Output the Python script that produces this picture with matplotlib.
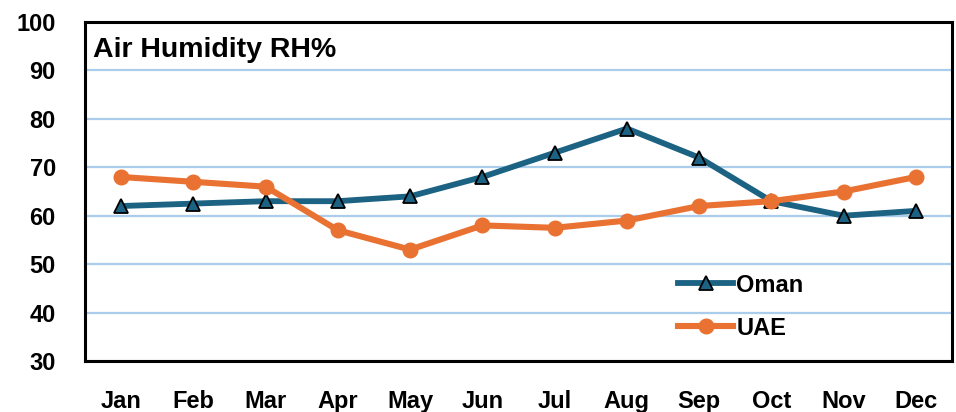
import matplotlib
matplotlib.use("Agg")
import matplotlib.pyplot as plt

months = ["Jan", "Feb", "Mar", "Apr", "May", "Jun", "Jul", "Aug", "Sep", "Oct", "Nov", "Dec"]
oman = [62, 62.5, 63, 63, 64, 68, 73, 78, 72, 63, 60, 61]
uae = [68, 67, 66, 57, 53, 58, 57.5, 59, 62, 63, 65, 68]
yticks = [30, 40, 50, 60, 70, 80, 90, 100]
title = "Air Humidity RH%"

plt.rcParams['font.family'] = ['Liberation Sans', 'DejaVu Sans']

fig = plt.figure(figsize=(9.56, 4.12), dpi=100)
ax = fig.add_axes([85/956, 1-361/412, (952-85)/956, (361-22)/412])

x = list(range(len(months)))
oman_c = "#1B6283"
uae_c = "#E97132"
ax.plot(x, oman, color=oman_c, lw=4.2, marker="^", ms=10, mfc=oman_c, mec="black", mew=1.3, label="Oman", zorder=3)
ax.plot(x, uae, color=uae_c, lw=4.4, marker="o", ms=10.5, mfc=uae_c, mec=uae_c, label="UAE", zorder=3)

ax.set_xlim(-0.5, 11.5)
ax.set_ylim(30, 100)
ax.set_yticks(yticks)
ax.set_xticks(x)
ax.set_xticklabels(months)
ax.yaxis.grid(True, color="#A9CDEB", lw=1.6)
ax.set_axisbelow(True)
ax.tick_params(length=0, labelsize=17)
ax.tick_params(axis="y", pad=21)
ax.tick_params(axis="x", pad=21)
for lab in ax.get_xticklabels() + ax.get_yticklabels():
    lab.set_fontweight("bold")
for s in ax.spines.values():
    s.set_linewidth(2.2)
    s.set_color("black")

ax.text(0.009, 0.955, title, transform=ax.transAxes, ha="left", va="top", fontsize=20.5, fontweight="bold")

leg = ax.legend(loc="lower left", bbox_to_anchor=(0.66, 0.0), frameon=False, handlelength=2.3,
                prop={"size": 17, "weight": "bold"}, labelspacing=0.85, handletextpad=0.15)

fig.savefig("out.png", dpi=100)
